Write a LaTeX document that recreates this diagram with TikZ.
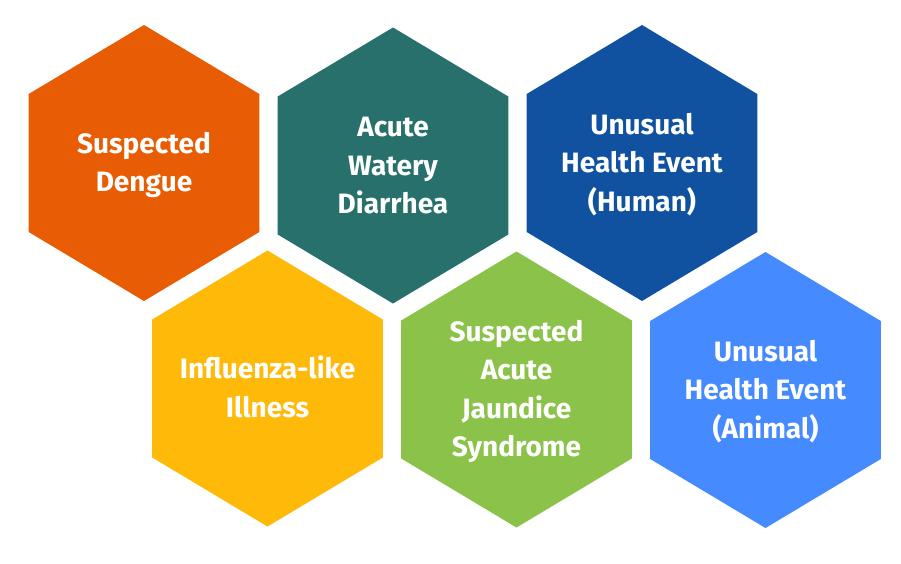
\documentclass[tikz,border=0pt]{standalone}
\usepackage{fontspec}
\setmainfont{Fira Sans}
\definecolor{hexorange}{HTML}{E85D04}
\definecolor{hexteal}{HTML}{27706C}
\definecolor{hexnavy}{HTML}{1052A0}
\definecolor{hexyellow}{HTML}{FFB908}
\definecolor{hexgreen}{HTML}{8BC34A}
\definecolor{hexblue}{HTML}{458AFF}
\tikzset{
  hextext/.style={text=white, align=center, inner sep=0pt, anchor=base,
    font=\fontsize{28}{38.5}\selectfont\bfseries},
}
% #1 name, #2 x, #3 y, #4 colour, #5 number of lines, #6 text
% the node's base is the baseline of its last line
\newcommand\hexcell[6]{%
  \fill[#4] (#2,#3) ++(0,-138) -- ++(115.3,69) -- ++(0,138) -- ++(-115.3,69)
    -- ++(-115.3,-69) -- ++(0,-138) -- cycle;
  \node[hextext] (#1) at (#2,{#3+(#5-1)*19.25+9.65}) {#6};
}
\begin{document}
\begin{tikzpicture}[x=1pt,y=-1pt]
\useasboundingbox (0,0) rectangle (901,563);
\fill[white] (0,0) rectangle (901,563);
\hexcell{dengue}{144}{163}{hexorange}{2}{Suspected\\Dengue}
\hexcell{awd}{393}{165.5}{hexteal}{3}{Acute\\Watery\\Diarrhea}
\hexcell{uhehuman}{642}{163}{hexnavy}{3}{Unusual\\Health Event\\(Human)}
\hexcell{ili}{267.5}{388.5}{hexyellow}{2}{Influenza-like\\Illness}
\hexcell{saj}{516.5}{389.5}{hexgreen}{4}{Suspected\\Acute\\Jaundice\\Syndrome}
\hexcell{uheanimal}{765.5}{390}{hexblue}{3}{Unusual\\Health Event\\(Animal)}
\end{tikzpicture}
\end{document}
